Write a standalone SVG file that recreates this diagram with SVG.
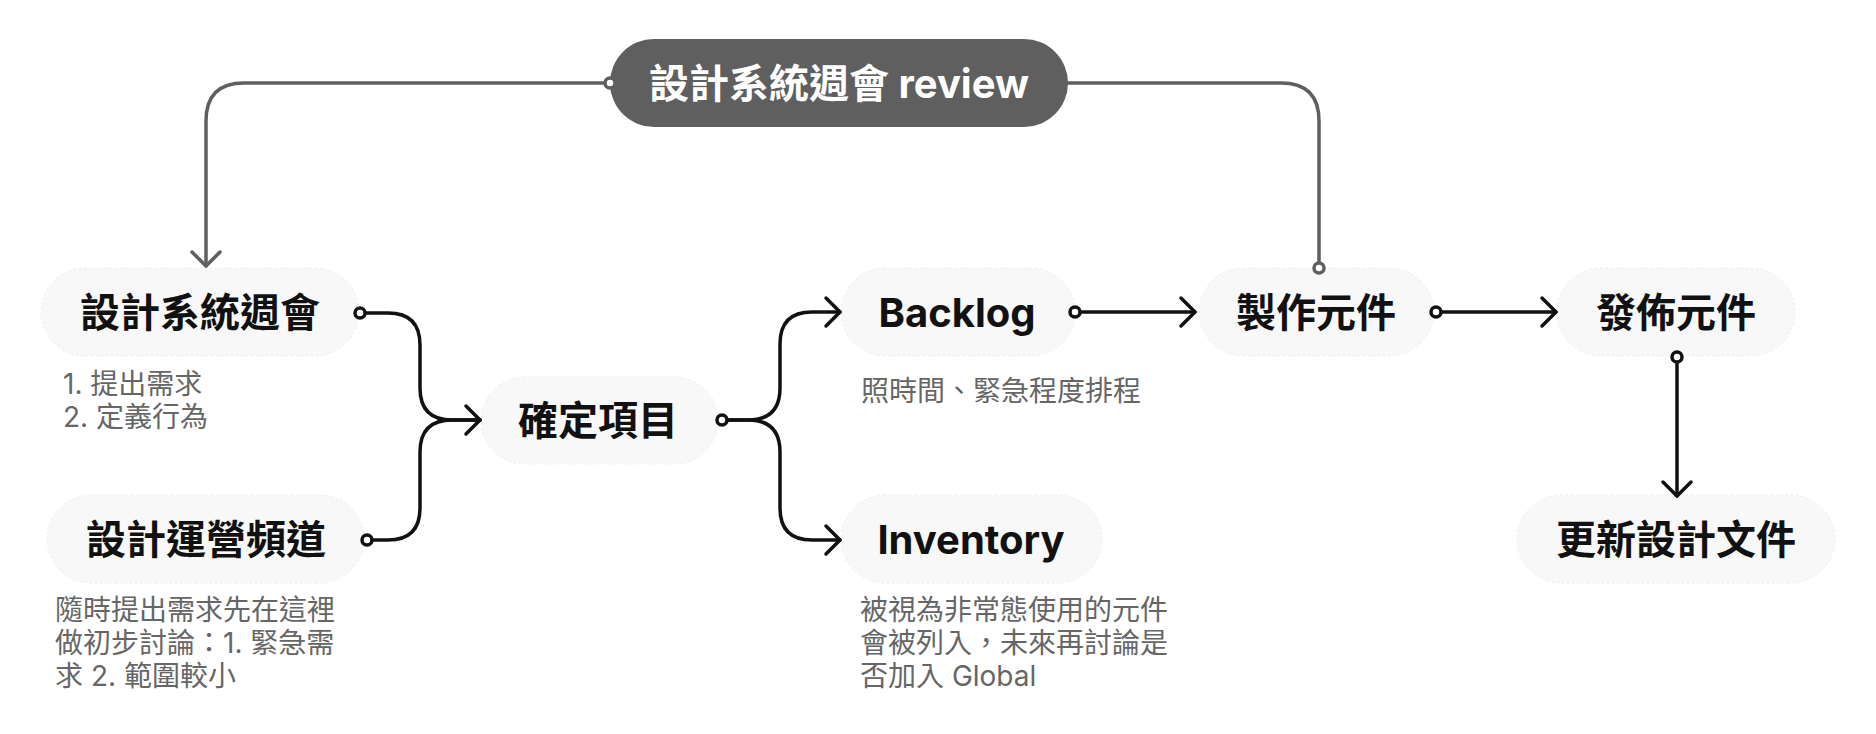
<svg xmlns="http://www.w3.org/2000/svg" width="1876" height="734" viewBox="0 0 1876 734">
<defs>
<style>
.bg{fill:#ffffff}
.pill{fill:#f8f8f8;stroke:#ececec;stroke-width:1;stroke-dasharray:2 3}
.dark{fill:#5f5f5f}
.lbl{font-family:Inter,"Noto Sans CJK TC",sans-serif;font-weight:700;font-size:40px;fill:#111;text-anchor:middle}
.lblw{font-family:Inter,"Noto Sans CJK TC",sans-serif;font-weight:700;font-size:40px;fill:#ffffff;text-anchor:middle}
.sub{font-family:Inter,"Noto Sans CJK TC",sans-serif;font-weight:400;font-size:28px;fill:#666666}
.ln{fill:none;stroke:#111;stroke-width:3.5;stroke-linecap:round;stroke-linejoin:round}
.lng{fill:none;stroke:#5f5f5f;stroke-width:3.5;stroke-linecap:round;stroke-linejoin:round}
.dot{fill:#ffffff;stroke:#111;stroke-width:3.5}
.dotg{fill:#ffffff;stroke:#5f5f5f;stroke-width:3.5}
</style>
</defs>
<rect class="bg" x="0" y="0" width="1876" height="734"/>

<g id="node-review">
  <rect class="dark" x="610" y="39" width="458" height="88" rx="44"/>
  <text class="lblw" x="839" y="98">設計系統週會 review</text>
</g>

<g id="node-weekly">
  <rect class="pill" x="41" y="268" width="318" height="88" rx="44"/>
  <text class="lbl" x="200" y="327">設計系統週會</text>
  <text class="sub" x="63" y="394">1. 提出需求</text>
  <text class="sub" x="63" y="427">2. 定義行為</text>
</g>

<g id="node-channel">
  <rect class="pill" x="47" y="495" width="317" height="88" rx="44"/>
  <text class="lbl" x="206" y="554">設計運營頻道</text>
  <text class="sub" x="55" y="620">隨時提出需求先在這裡</text>
  <text class="sub" x="55" y="653">做初步討論：1. 緊急需</text>
  <text class="sub" x="55" y="686">求 2. 範圍較小</text>
</g>

<g id="node-confirm">
  <rect class="pill" x="481" y="377" width="237" height="87" rx="43.5"/>
  <text class="lbl" x="598" y="435">確定項目</text>
</g>

<g id="node-backlog">
  <rect class="pill" x="841" y="268" width="234" height="88" rx="44"/>
  <text class="lbl" x="957" y="327">Backlog</text>
  <text class="sub" x="861" y="401">照時間、緊急程度排程</text>
</g>

<g id="node-inventory">
  <rect class="pill" x="841" y="495" width="261" height="88" rx="44"/>
  <text class="lbl" x="971" y="554">Inventory</text>
  <text class="sub" x="860" y="620">被視為非常態使用的元件</text>
  <text class="sub" x="860" y="653">會被列入，未來再討論是</text>
  <text class="sub" x="860" y="686">否加入 Global</text>
</g>

<g id="node-build">
  <rect class="pill" x="1199" y="268" width="235" height="88" rx="44"/>
  <text class="lbl" x="1316" y="327">製作元件</text>
</g>

<g id="node-publish">
  <rect class="pill" x="1557" y="268" width="238" height="88" rx="44"/>
  <text class="lbl" x="1676" y="327">發佈元件</text>
</g>

<g id="node-update">
  <rect class="pill" x="1517" y="495" width="318" height="88" rx="44"/>
  <text class="lbl" x="1676" y="554">更新設計文件</text>
</g>

<g id="connectors">
  <!-- review -> 設計系統週會 -->
  <path class="lng" d="M605,83 H244 Q206,83 206,121 V266"/>
  <path class="lng" d="M192,252 L206,266 L220,252"/>
  <circle class="dotg" cx="610" cy="83" r="5"/>
  <!-- review -> 製作元件 -->
  <path class="lng" d="M1068,83 H1281 Q1319,83 1319,121 V263"/>
  <circle class="dotg" cx="1319" cy="268" r="5"/>
  <!-- 設計系統週會 -> 確定項目 -->
  <path class="ln" d="M365,313 H388 Q420,313 420,345 V388 Q420,420 452,420 H480"/>
  <circle class="dot" cx="360" cy="313" r="5"/>
  <!-- 設計運營頻道 -> 確定項目 -->
  <path class="ln" d="M372,540 H388 Q420,540 420,508 V452 Q420,420 452,420 H480"/>
  <circle class="dot" cx="367" cy="540" r="5"/>
  <path class="ln" d="M466,406 L480,420 L466,434"/>
  <!-- 確定項目 -> Backlog / Inventory -->
  <path class="ln" d="M727,420 H748 Q780,420 780,388 V344 Q780,312 812,312 H840"/>
  <path class="ln" d="M727,420 H748 Q780,420 780,452 V508 Q780,540 812,540 H840"/>
  <circle class="dot" cx="722" cy="420" r="5"/>
  <path class="ln" d="M826,298 L840,312 L826,326"/>
  <path class="ln" d="M826,526 L840,540 L826,554"/>
  <!-- Backlog -> 製作元件 -->
  <path class="ln" d="M1080,312 H1195"/>
  <path class="ln" d="M1181,298 L1195,312 L1181,326"/>
  <circle class="dot" cx="1075" cy="312" r="5"/>
  <!-- 製作元件 -> 發佈元件 -->
  <path class="ln" d="M1441,312 H1556"/>
  <path class="ln" d="M1542,298 L1556,312 L1542,326"/>
  <circle class="dot" cx="1436" cy="312" r="5"/>
  <!-- 發佈元件 -> 更新設計文件 -->
  <path class="ln" d="M1677,362 V496"/>
  <path class="ln" d="M1663,482 L1677,496 L1691,482"/>
  <circle class="dot" cx="1677" cy="357" r="5"/>
</g>
</svg>
